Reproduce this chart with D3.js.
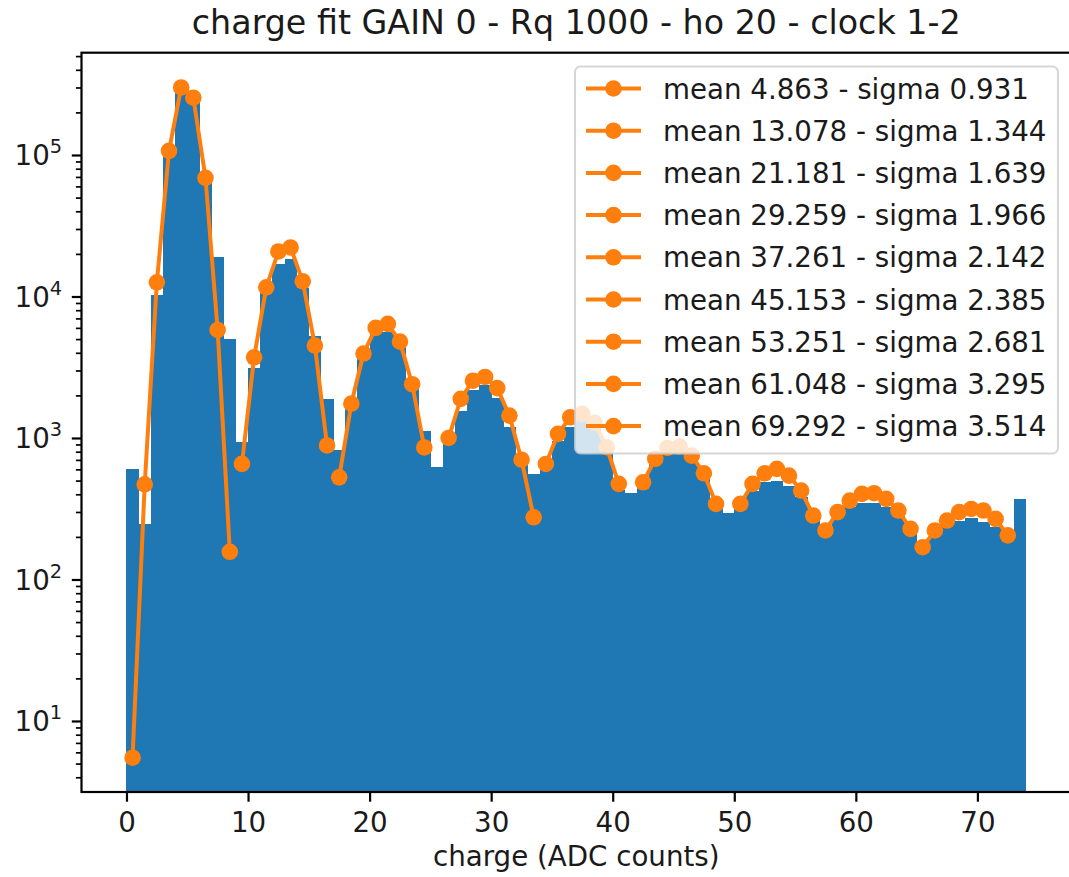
<html>
<head>
<meta charset="utf-8">
<script src="https://d3js.org/d3.v7.min.js"></script>
<style>
body { margin: 0; background: #fff; }
text { font-family: "DejaVu Sans", sans-serif; fill: #1a1a1a; }
</style>
</head>
<body>
<script>
// histogram counts, one per ADC count bin [i, i+1)
const counts = [600, 245, 10200, 110000, 280000, 250000, 72000, 19000, 5000, 930,
  3100, 11000, 17000, 18500, 11500, 5300, 1900, 820, 1850, 3800,
  5500, 5600, 4400, 2400, 1120, 620, 955, 1550, 2200, 2350,
  1930, 1190, 730, 553, 622, 955, 1200, 1350, 1250, 900,
  430, 410, 520, 730, 850, 860, 770, 560, 360, 295,
  325, 425, 488, 500, 460, 380, 283, 235, 275, 324,
  345, 345, 324, 283, 235, 185, 210, 240, 260, 270,
  254, 235, 210, 371]

// gaussian fits, values at bin centers starting at fitFirstBin
const fitMeans = [4.863, 13.078, 21.181, 29.259, 37.261, 45.153, 53.251, 61.048, 69.292]
const fitSigmas = [0.931, 1.344, 1.639, 1.966, 2.142, 2.385, 2.681, 3.295, 3.514]
const fitFirstBin = [0, 9, 17, 26, 34, 42, 50, 57, 65]
const fitCounts = [
  [5.5, 470, 12600, 107000, 300000, 254000, 69000, 5800, 157],
  [656, 3720, 11600, 20800, 22200, 12800, 4500, 885],
  [527, 1750, 3950, 6000, 6400, 4800, 2400, 857],
  [1000, 1890, 2540, 2700, 2250, 1440, 702, 275],
  [655, 1070, 1400, 1480, 1280, 860, 474],
  [486, 713, 850, 870, 750, 563, 342],
  [342, 474, 563, 605, 542, 425, 283],
  [222, 299, 361, 403, 407, 371, 307, 228],
  [169, 222, 261, 299, 315, 307, 268, 205]
]

const xTicks = [0, 10, 20, 30, 40, 50, 60, 70]
const yExponents = [1, 2, 3, 4, 5]

const w = 1069;
const h = 877;
const plotL = 81.5, plotR = 1071, plotT = 52.7, plotB = 792;
const fs = 27.7;
const blue = "#1f77b4", orange = "#ff7f0e";

const svg = d3.select("body")
  .append("svg")
  .attr("width", w)
  .attr("height", h)

svg.append("defs").append("clipPath").attr("id", "plotclip")
  .append("rect")
  .attr("x", plotL).attr("y", plotT)
  .attr("width", plotR - plotL).attr("height", plotB - plotT);

const xscale = d3.scaleLinear()
  .domain([-3.7, 77.7])
  .range([plotL, plotR]);
const yscale = d3.scaleLog()
  .domain([3.148, 528400])
  .range([plotB, plotT]);

const plot = svg.append("g").attr("clip-path", "url(#plotclip)");

plot.selectAll("rect")
  .data(counts)
  .enter()
  .append("rect")
  .attr("x", (d, i) => xscale(i))
  .attr("width", (d, i) => xscale(i + 1) - xscale(i) + 0.4)
  .attr("y", d => yscale(d))
  .attr("height", d => plotB - yscale(d))
  .attr("fill", blue)
  .attr("shape-rendering", "crispEdges");

const line = d3.line().x(d => xscale(d[0])).y(d => yscale(d[1]));

fitCounts.forEach((vals, k) => {
  const pts = vals.map((v, i) => [fitFirstBin[k] + i + 0.5, v]);
  const g = plot.append("g");
  g.append("path")
    .attr("d", line(pts))
    .attr("fill", "none")
    .attr("stroke", orange)
    .attr("stroke-width", 4)
    .attr("stroke-linejoin", "round")
    .attr("stroke-linecap", "square");
  g.selectAll("circle")
    .data(pts)
    .enter()
    .append("circle")
    .attr("cx", d => xscale(d[0]))
    .attr("cy", d => yscale(d[1]))
    .attr("r", 8.3)
    .attr("fill", orange);
});

// spines
svg.append("rect")
  .attr("x", plotL).attr("y", plotT)
  .attr("width", plotR - plotL).attr("height", plotB - plotT)
  .attr("fill", "none")
  .attr("stroke", "#000")
  .attr("stroke-width", 2.2);

// x axis
const xaxis = d3.axisBottom(xscale)
  .tickValues(xTicks)
  .tickSize(9.7)
  .tickPadding(9.7)
  .tickSizeOuter(0);
const gx = svg.append("g")
  .attr("transform", "translate(0, " + plotB + ")")
  .call(xaxis);
gx.select(".domain").remove();
gx.selectAll(".tick line").attr("stroke", "#000").attr("stroke-width", 2.2);
gx.selectAll(".tick text")
  .attr("font-size", fs)
  .attr("font-family", "DejaVu Sans")
  .attr("dy", "0.71em")
  .attr("y", 19.9);

// y axis, major
const majors = yExponents.map(e => Math.pow(10, e));
const yaxis = d3.axisLeft(yscale)
  .tickValues(majors)
  .tickSize(9.7)
  .tickPadding(9.7)
  .tickSizeOuter(0)
  .tickFormat("");
const gy = svg.append("g")
  .attr("transform", `translate(${plotL}, 0)`)
  .call(yaxis);
gy.select(".domain").remove();
gy.selectAll(".tick line").attr("stroke", "#000").attr("stroke-width", 2.2);
gy.selectAll(".tick text").each(function(d, i) {
  const t = d3.select(this)
    .attr("x", -19.4)
    .attr("dy", null)
    .attr("y", 10)
    .attr("font-size", fs)
    .attr("font-family", "DejaVu Sans")
    .attr("text-anchor", "end");
  t.append("tspan").text("10");
  t.append("tspan").attr("dy", -12).attr("font-size", fs * 0.7).text(yExponents[i]);
});

// y axis, minor
const minors = [];
for (let e = 0; e <= 5; e++) {
  for (let m = 2; m <= 9; m++) {
    const v = m * Math.pow(10, e);
    if (v > yscale.domain()[0] && v < yscale.domain()[1]) minors.push(v);
  }
}
const gym = svg.append("g")
  .attr("transform", `translate(${plotL}, 0)`)
  .call(d3.axisLeft(yscale).tickValues(minors).tickSize(5.6).tickSizeOuter(0).tickFormat(""));
gym.select(".domain").remove();
gym.selectAll(".tick line").attr("stroke", "#000").attr("stroke-width", 1.7);

// title + label
svg.append("text")
  .attr("x", (plotL + plotR) / 2)
  .attr("y", 34)
  .attr("text-anchor", "middle")
  .attr("font-size", 33.3)
  .text("charge fit GAIN 0 - Rq 1000 - ho 20 - clock 1-2");

svg.append("text")
  .attr("x", (plotL + plotR) / 2)
  .attr("y", 866)
  .attr("text-anchor", "middle")
  .attr("font-size", fs)
  .text("charge (ADC counts)");

// legend
const lx = 575, ly = 66.5, lw = 483, lh = 387;
const leg = svg.append("g");
leg.append("rect")
  .attr("x", lx).attr("y", ly)
  .attr("width", lw).attr("height", lh)
  .attr("rx", 5.5)
  .attr("fill", "#fff")
  .attr("fill-opacity", 0.8)
  .attr("stroke", "#cccccc")
  .attr("stroke-opacity", 0.8)
  .attr("stroke-width", 2);

const rows = leg.selectAll("g.row")
  .data(fitMeans)
  .enter()
  .append("g")
  .attr("class", "row")
  .attr("transform", (d, i) => `translate(0, ${88.5 + i * 42.2})`);
rows.append("line")
  .attr("x1", lx + 11).attr("x2", lx + 66)
  .attr("stroke", orange).attr("stroke-width", 4);
rows.append("circle")
  .attr("cx", lx + 38.5).attr("r", 8.3).attr("fill", orange);
rows.append("text")
  .attr("x", lx + 88)
  .attr("y", 10)
  .attr("font-size", fs)
  .text((d, i) => `mean ${d.toFixed(3)} - sigma ${fitSigmas[i].toFixed(3)}`);
</script>
</body>
</html>
